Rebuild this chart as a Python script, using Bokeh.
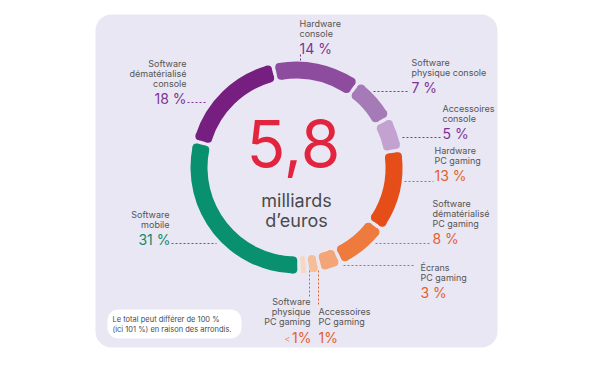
import numpy as np
from bokeh.plotting import figure
from bokeh.models import ColumnDataSource, BoxAnnotation, Range1d
from bokeh.embed import file_html
from bokeh.resources import INLINE
from bokeh.core.properties import value

# ---------------- data ----------------
categories = ["Hardware console", "Software physique console", "Accessoires console",
              "Hardware PC gaming", "Software dématérialisé PC gaming", "Écrans PC gaming",
              "Accessoires PC gaming", "Software physique PC gaming", "Software mobile",
              "Software dématérialisé console"]
values = [14, 7, 5, 13, 8, 3, 1, 0.8, 31, 18]
pct_labels = ["14 %", "7 %", "5 %", "13 %", "8 %", "3 %", "1%", "<1%", "31 %", "18 %"]
label_lines = [["Hardware", "console"], ["Software", "physique console"], ["Accessoires", "console"],
               ["Hardware", "PC gaming"], ["Software", "dématérialisé", "PC gaming"],
               ["Écrans", "PC gaming"], ["Accessoires", "PC gaming"],
               ["Software", "physique", "PC gaming"], ["Software", "mobile"],
               ["Software", "dématérialisé", "console"]]
total_big = "5,8"
total_unit = ["milliards", "d’euros"]
note_lines = ["Le total peut différer de 100 %", "(ici 101 %) en raison des arrondis."]

# ---------------- style ----------------
seg_colors = ["#8E4C9F", "#A67AB7", "#C3A2D2", "#E54D19", "#EE7A3D", "#F3A577",
              "#F6BE98", "#F8D7C0", "#08906F", "#761F80"]
PURPLE, ORANGE, GREEN = "#7F3395", "#E4602B", "#13896C"
pct_colors = [PURPLE, PURPLE, PURPLE, ORANGE, ORANGE, ORANGE, ORANGE, ORANGE, GREEN, PURPLE]
LABEL_COL = "#555555"
FONT = "Inter"

# label layout in page pixels: (x, y of first line, align, pct y, pct x)
lab_pos = [(299, 23, "left", 48, 299), (411, 62, "left", 87, 411), (442, 108, "left", 133, 442),
           (434, 150, "left", 175, 434), (432, 203, "left", 238, 432), (420, 267, "left", 292, 420),
           (318, 311, "left", 337, 318), (310, 301, "right", 337, 311), (169, 214, "right", 239, 170),
           (186, 63, "right", 98, 186)]
leaders = [(300, 54, 300, 61), (373, 91, 409, 91), (402, 137, 440, 137), (404, 181, 433, 181),
           (375, 243, 430, 243), (343, 265, 415, 265), (318, 270, 318, 305), (309, 270, 309, 297),
           (171, 243, 216, 243), (187, 102, 207, 102)]
LINE_H = 10.2

W, H = 592, 359
OFF = 0


def X(px):
    return px - OFF


def Y(py):
    return H - (py - OFF)


p = figure(width=W, height=H, x_range=Range1d(0, W), y_range=Range1d(0, H),
           output_backend="svg", toolbar_location=None, min_border=0,
           x_axis_location=None, y_axis_location=None)
p.xgrid.grid_line_color = None
p.ygrid.grid_line_color = None
p.outline_line_color = None
p.background_fill_color = "white"
p.border_fill_color = "white"

# card and note box
card = BoxAnnotation(left=X(95), right=X(497), top=Y(14), bottom=Y(347),
                     fill_color="#E9E7F3", fill_alpha=1, line_color=None,
                     border_radius=16, level="underlay")
p.add_layout(card)
note = BoxAnnotation(left=X(107), right=X(241), top=Y(309), bottom=Y(338),
                     fill_color="white", fill_alpha=1, line_color=None,
                     border_radius=11, level="underlay")
p.add_layout(note)

# ---------------- ring ----------------
cx, cy = X(296), Y(167)
ri, ro = 89.0, 106.0
rm = (ri + ro) / 2
corner = 4.0
gap_px = 3.5
theta0 = -13.0  # boundary before first segment (deg, clockwise from top)

n = len(values)
tot = float(sum(values))
circ = 2 * np.pi * rm
avail = circ - n * gap_px
arc = np.array([v / tot * avail for v in values])
min_arc = np.array([8.0 if v >= 1 else 0.0 for v in values])
fixed = arc < min_arc
arc[fixed] = min_arc[fixed]
free = ~fixed
arc[free] = arc[free] * (avail - arc[fixed].sum()) / arc[free].sum()

starts, ends = [], []
b = np.radians(theta0)
for a in arc:
    s = b + (gap_px / 2) / rm
    e = s + a / rm
    starts.append(s)
    ends.append(e)
    b = e + (gap_px / 2) / rm
starts = np.array(starts)
ends = np.array(ends)
# bokeh angles (anticlockwise from +x)
phi0 = np.pi / 2 - ends
phi1 = np.pi / 2 - starts
cr = np.minimum(corner, arc / 2 - 0.05)

srcA = ColumnDataSource(dict(x=[cx] * n, y=[cy] * n, ir=ri + cr, orr=ro - cr,
                             s=phi0, e=phi1, c=seg_colors))
p.annular_wedge(x="x", y="y", inner_radius="ir", outer_radius="orr", start_angle="s",
                end_angle="e", fill_color="c", line_color=None, source=srcA)

for r_in, r_out, rc in [(rm, ro, ro - cr), (ri, rm + 0.5, ri + cr)]:
    ds = cr / rc
    s = phi0 + ds
    e = phi1 - ds
    keep = e > s + 1e-4
    src = ColumnDataSource(dict(x=[cx] * int(keep.sum()), y=[cy] * int(keep.sum()),
                                s=s[keep], e=e[keep], c=np.array(seg_colors)[keep]))
    p.annular_wedge(x="x", y="y", inner_radius=r_in, outer_radius=r_out, start_angle="s",
                    end_angle="e", fill_color="c", line_color=None, source=src)

cxs, cys, crs, ccs = [], [], [], []
for i in range(n):
    for rr in (ri + cr[i], ro - cr[i]):
        for ang in (phi0[i] + cr[i] / rr, phi1[i] - cr[i] / rr):
            cxs.append(cx + rr * np.cos(ang))
            cys.append(cy + rr * np.sin(ang))
            crs.append(cr[i])
            ccs.append(seg_colors[i])
p.circle(x=cxs, y=cys, radius=crs, fill_color=ccs, line_color=None)

# ---------------- leaders ----------------
p.segment(x0=[X(l[0]) for l in leaders], y0=[Y(l[1]) for l in leaders],
          x1=[X(l[2]) for l in leaders], y1=[Y(l[3]) for l in leaders],
          line_color=pct_colors, line_width=1, line_dash="2 2")

# ---------------- labels ----------------
lx, ly, la = [], [], []
lt = []
for i, lines in enumerate(label_lines):
    x0, y0, al, _, _ = lab_pos[i]
    for j, t in enumerate(lines):
        lx.append(X(x0))
        ly.append(Y(y0 + j * LINE_H))
        la.append(al)
        lt.append(t)
p.text(x="x", y="y", text="t", text_align="a",
       source=ColumnDataSource(dict(x=lx, y=ly, t=lt, a=la)),
       text_font=value(FONT), text_font_size="9px", text_baseline="middle",
       text_color=LABEL_COL)

px_, py_, pt_, pa_, pc_ = [], [], [], [], []
small = []
for i, t in enumerate(pct_labels):
    _, _, al, yy, xx = lab_pos[i]
    if t.startswith("<"):
        small.append((xx, yy, pct_colors[i]))
        t = t[1:]
    px_.append(X(xx))
    py_.append(Y(yy))
    pt_.append(t)
    pa_.append(al)
    pc_.append(pct_colors[i])
p.text(x="x", y="y", text="t", text_align="a", text_color="c",
       source=ColumnDataSource(dict(x=px_, y=py_, t=pt_, a=pa_, c=pc_)),
       text_font=value(FONT), text_font_size="14px", text_baseline="middle")
for xx, yy, col in small:
    p.text(x=[X(xx - 21)], y=[Y(yy + 1)], text=["<"], text_font=value(FONT),
           text_font_size="9px", text_align="right", text_baseline="middle",
           text_color=col, text_alpha=0.7)

# ---------------- center ----------------
p.text(x=[X(293)], y=[Y(143)], text=[total_big], text_font=value(FONT),
       text_font_size="64px", text_align="center", text_baseline="middle",
       text_color="#E3243F")
p.text(x=[X(296), X(296)], y=[Y(200), Y(220)], text=total_unit, text_font=value(FONT),
       text_font_size="18px", text_align="center", text_baseline="middle",
       text_color="#4A4A4A")

# ---------------- note ----------------
p.text(x=[X(112), X(112)], y=[Y(319), Y(329)], text=note_lines, text_font=value(FONT),
       text_font_size="7.5px", text_align="left", text_baseline="middle",
       text_color="#4A4A4A")

open("out.html", "w").write(file_html(p, INLINE))
